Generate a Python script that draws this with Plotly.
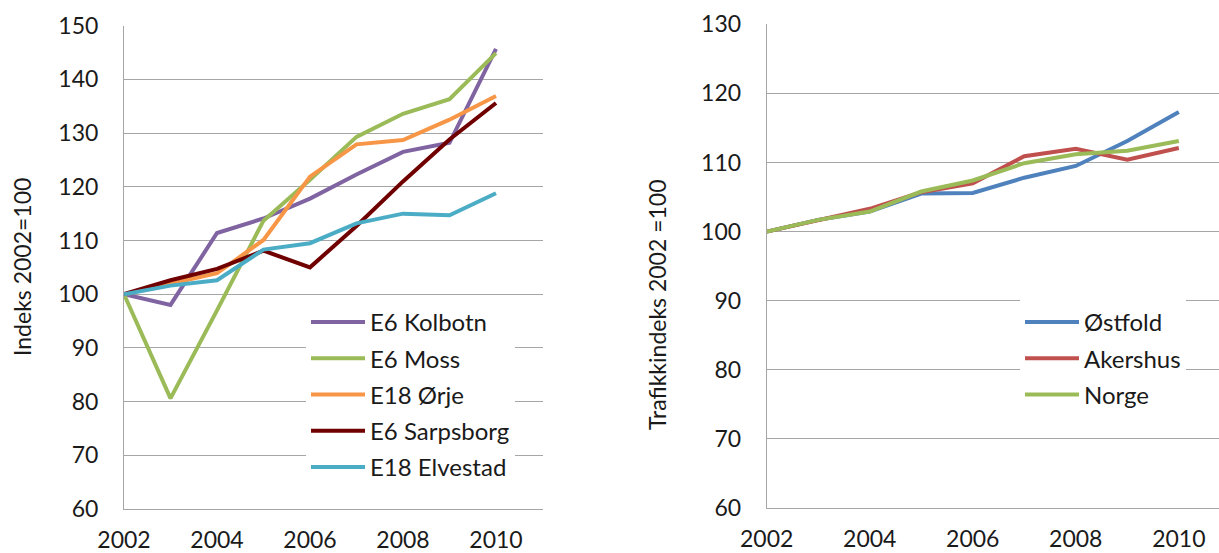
import plotly.graph_objects as go

# ---- data ----
years = [2002, 2003, 2004, 2005, 2006, 2007, 2008, 2009, 2010]

# traffic index per counting station (2002 = 100)
e6_kolbotn = [100, 98.0, 111.4, 114.1, 117.8, 122.3, 126.5, 128.2, 145.7]
e6_moss = [100, 80.6, 97.0, 113.7, 121.3, 129.3, 133.6, 136.3, 144.9]
e18_orje = [100, 101.9, 103.9, 110.1, 121.9, 127.9, 128.7, 132.5, 136.9]
e6_sarpsborg = [100, 102.6, 104.7, 108.1, 105.0, 112.7, 121.0, 128.8, 135.6]
e18_elvestad = [100, 101.6, 102.6, 108.3, 109.5, 113.2, 115.0, 114.7, 118.8]

# traffic index per county and nationwide (2002 = 100)
ostfold = [100, 101.7, 102.9, 105.5, 105.6, 107.8, 109.5, 113.1, 117.3]
akershus = [100, 101.6, 103.3, 105.7, 107.0, 110.9, 112.0, 110.4, 112.1]
norge = [100, 101.7, 102.9, 105.8, 107.4, 109.9, 111.2, 111.7, 113.1]

left_series = [
    ("E6 Kolbotn", e6_kolbotn, "#8064A2"),
    ("E6 Moss", e6_moss, "#9BBB59"),
    ("E18 Ørje", e18_orje, "#F79646"),
    ("E6 Sarpsborg", e6_sarpsborg, "#700000"),
    ("E18 Elvestad", e18_elvestad, "#4BACC6"),
]
right_series = [
    ("Østfold", ostfold, "#4F81BD"),
    ("Akershus", akershus, "#C0504D"),
    ("Norge", norge, "#9BBB59"),
]

left_yticks = list(range(60, 151, 10))
right_yticks = list(range(60, 131, 10))
xticks = [2002, 2004, 2006, 2008, 2010]

FONT = "Lato"
TXT = "#1a1a1a"
GRID = "#A6A6A6"
W, H = 1219, 553

fig = go.Figure()

for i, (name, vals, col) in enumerate(left_series):
    fig.add_trace(go.Scatter(
        x=years, y=vals, name=name, mode="lines",
        line=dict(color=col, width=4),
        xaxis="x", yaxis="y", legend="legend", legendgroup=f"l{i}",
    ))

for i, (name, vals, col) in enumerate(right_series):
    fig.add_trace(go.Scatter(
        x=years, y=vals, name=name, mode="lines",
        line=dict(color=col, width=4),
        xaxis="x2", yaxis="y2", legend="legend2", legendgroup=f"r{i}",
    ))


def px_x(p):
    return p / W


def px_y(p):
    return (H - p) / H


axis_common = dict(
    showgrid=False, showline=True, linecolor=GRID, linewidth=1,
    ticks="", tickfont=dict(family=FONT, size=23, color=TXT),
    zeroline=False, automargin=False,
)

fig.update_layout(
    width=W, height=H,
    margin=dict(l=0, r=0, t=0, b=0, autoexpand=False),
    paper_bgcolor="white", plot_bgcolor="white",
    font=dict(family=FONT, size=23, color=TXT),
    xaxis=dict(
        axis_common, domain=[px_x(124), px_x(542.5)], range=[2002, 2011],
        tickvals=xticks, anchor="y", ticklabelstandoff=10,
    ),
    yaxis=dict(
        axis_common, domain=[px_y(509), px_y(25.7)], range=[60, 150],
        tickvals=left_yticks, showgrid=True, gridcolor=GRID, gridwidth=1,
        anchor="x", ticklabelstandoff=20,
    ),
    xaxis2=dict(
        axis_common, domain=[px_x(766.7), 1.0], range=[2002, 2010.78],
        tickvals=xticks, anchor="y2", ticklabelstandoff=10,
    ),
    yaxis2=dict(
        axis_common, domain=[px_y(508), px_y(24.3)], range=[60, 130],
        tickvals=right_yticks, showgrid=True, gridcolor=GRID, gridwidth=1,
        anchor="x2", ticklabelstandoff=20,
    ),
    legend=dict(
        x=px_x(306), y=px_y(300), xanchor="left", yanchor="top",
        bgcolor="white", borderwidth=0, tracegroupgap=2,
        font=dict(family=FONT, size=24, color=TXT), itemwidth=54,
    ),
    legend2=dict(
        x=px_x(1020), y=px_y(300), xanchor="left", yanchor="top",
        bgcolor="white", borderwidth=0, tracegroupgap=2,
        font=dict(family=FONT, size=24, color=TXT), itemwidth=54,
    ),
    annotations=[
        dict(text="Indeks 2002=100", textangle=-90, showarrow=False,
             xref="paper", yref="paper", x=px_x(22), y=px_y(267),
             xanchor="center", yanchor="middle",
             font=dict(family=FONT, size=23, color=TXT)),
        dict(text="Trafikkindeks 2002 =100", textangle=-90, showarrow=False,
             xref="paper", yref="paper", x=px_x(657), y=px_y(305),
             xanchor="center", yanchor="middle",
             font=dict(family=FONT, size=23, color=TXT)),
    ],
)

fig.write_html("out.html")
